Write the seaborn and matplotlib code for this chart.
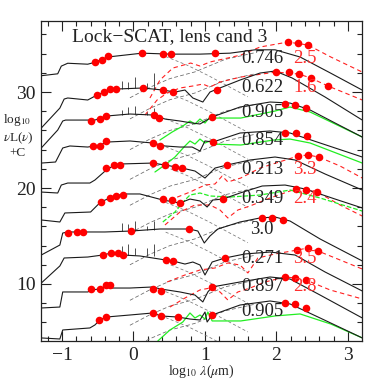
import matplotlib
matplotlib.use("Agg")
import matplotlib.pyplot as plt
from matplotlib.ticker import MultipleLocator
import seaborn as sns

# ---------------------------------------------------------------
# Data (rest-frame log10 lambda, log nuL(nu)+C)
# ---------------------------------------------------------------
z_labels = ["0.746", "0.622", "0.905", "0.854", "0.213", "0.349", "3.0", "0.271", "0.897", "0.905"]
z_label_y = [33.5, 30.45, 27.9, 24.9, 21.9, 18.9, 15.7, 12.65, 9.7, 7.1]
alt_labels = ["2.5", "1.6", "", "", "3.3", "2.4", "", "3.5", "2.8", ""]

# total model SED (black solid)
tot_x1 = [-1.29, -1.06, -1.01, -0.92, -0.64, -0.54, -0.36, -0.12, 0.12, 0.51, 0.93, 1.35, 1.70, 1.98, 2.33, 2.75, 3.20]
tot_y1 = [31.7, 31.9, 32.7, 33.0, 32.9, 33.1, 33.65, 33.85, 34.05, 33.95, 33.95, 34.05, 34.4, 34.4, 33.65, 32.0, 30.2]
tot_x2 = [-1.29, -1.03, -0.97, -0.92, -0.64, -0.51, -0.41, -0.25, 0.13, 0.41, 0.58, 0.72, 0.83, 0.97, 1.07, 1.17, 1.49, 1.77, 1.98, 2.22, 2.68, 3.20]
tot_y2 = [26.25, 28.33, 29.27, 29.38, 29.17, 29.69, 30.0, 30.31, 30.42, 30.21, 30.0, 30.21, 29.38, 28.96, 30.0, 30.31, 31.25, 31.98, 32.19, 31.46, 29.48, 27.08]
tot_x3 = [-1.29, -1.06, -0.99, -0.95, -0.54, -0.38, -0.05, 0.29, 0.44, 0.65, 0.82, 0.93, 1.10, 1.49, 1.91, 2.19, 2.47, 2.82, 3.20]
tot_y3 = [24.17, 26.04, 26.98, 27.08, 27.08, 27.5, 27.71, 27.6, 27.19, 26.98, 26.77, 26.67, 27.4, 28.44, 28.96, 28.85, 28.13, 26.77, 25.31]
tot_x4 = [-1.29, -1.09, -0.99, -0.89, -0.64, -0.47, -0.37, -0.05, 0.27, 0.44, 0.65, 0.82, 0.93, 1.0, 1.11, 1.49, 1.91, 2.19, 2.61, 3.20]
tot_y4 = [22.6, 22.71, 24.17, 24.38, 24.27, 24.48, 24.79, 24.9, 24.69, 24.38, 24.27, 24.27, 23.85, 24.9, 24.79, 25.73, 25.94, 25.73, 24.69, 23.23]
tot_x5 = [-1.29, -1.06, -1.01, -0.92, -0.61, -0.54, -0.38, -0.29, -0.20, 0.27, 0.44, 0.68, 0.86, 1.0, 1.14, 1.31, 1.63, 1.98, 2.26, 2.68, 3.20]
tot_y5 = [19.58, 19.48, 20.31, 20.52, 20.52, 20.83, 21.88, 22.29, 22.5, 22.6, 22.4, 22.08, 21.77, 21.04, 22.08, 22.4, 22.92, 23.23, 22.92, 21.46, 19.79]
tot_x6 = [-1.29, -1.03, -0.96, -0.60, -0.46, -0.33, -0.23, -0.16, 0.09, 0.41, 0.65, 0.79, 0.93, 1.03, 1.11, 1.25, 1.49, 1.80, 2.12, 2.40, 2.82, 3.20]
tot_y6 = [16.67, 16.46, 17.4, 17.5, 18.54, 18.96, 19.17, 19.38, 19.38, 18.75, 18.44, 18.85, 18.65, 18.02, 18.75, 18.85, 19.48, 20.21, 20.31, 19.9, 18.85, 17.92]
tot_x7 = [-1.29, -1.03, -0.99, -0.92, -0.40, -0.03, 0.37, 0.78, 0.90, 0.99, 1.07, 1.18, 1.49, 1.77, 1.98, 2.19, 2.61, 3.20]
tot_y7 = [13.02, 14.06, 15.31, 15.42, 15.42, 15.52, 15.73, 15.73, 15.52, 14.27, 15.0, 15.73, 16.46, 16.88, 16.98, 16.56, 14.69, 12.4]
tot_x8 = [-1.29, -1.03, -0.97, -0.64, -0.43, -0.31, -0.22, -0.15, 0.09, 0.45, 0.55, 0.72, 0.83, 0.93, 1.0, 1.10, 1.28, 1.56, 1.91, 2.26, 2.68, 3.20]
tot_y8 = [10.1, 11.88, 12.71, 12.81, 13.02, 13.23, 13.23, 13.02, 12.92, 12.5, 12.4, 12.08, 12.29, 11.98, 10.94, 12.29, 12.71, 13.13, 13.33, 13.02, 11.25, 9.27]
tot_x9 = [-1.29, -1.03, -0.99, -0.64, -0.58, -0.48, -0.38, -0.31, -0.05, 0.27, 0.38, 0.65, 0.86, 0.97, 1.04, 1.10, 1.49, 1.91, 2.19, 2.61, 3.20]
tot_y9 = [7.5, 7.6, 9.17, 9.17, 9.38, 9.48, 9.69, 9.58, 9.58, 9.69, 9.48, 9.17, 8.85, 8.13, 9.17, 9.69, 10.21, 10.73, 10.52, 8.85, 6.46]
tot_x10 = [-1.29, -1.03, -0.99, -0.61, -0.54, -0.47, -0.38, -0.05, 0.27, 0.38, 0.62, 0.79, 0.93, 1.0, 1.03, 1.10, 1.49, 1.91, 2.19, 2.61, 3.20]
tot_y10 = [4.38, 4.27, 5.21, 5.42, 5.73, 6.25, 6.56, 6.77, 6.98, 6.67, 6.56, 6.35, 6.25, 7.08, 6.04, 6.77, 7.81, 8.23, 7.92, 6.46, 4.38]

# photometry (red dots)
pt_x1 = [-0.54, -0.44, -0.36, 0.12, 0.41, 0.52, 1.14, 2.16, 2.30, 2.44]
pt_y1 = [33.1, 33.3, 33.75, 34.05, 33.95, 33.95, 34.05, 35.2, 35.1, 34.9]
pt_x2 = [-0.51, -0.41, -0.33, -0.245, 0.13, 0.41, 0.55, 1.17, 1.99, 2.17, 2.31, 2.48, 2.72]
pt_y2 = [29.7, 30.0, 30.3, 30.3, 30.4, 30.2, 30.0, 30.2, 32.1, 32.1, 31.9, 31.5, 30.6]
pt_x3 = [-0.59, -0.47, -0.38, 0.29, 0.36, 1.10, 2.12, 2.26, 2.41]
pt_y3 = [27.0, 27.2, 27.5, 27.6, 27.3, 27.4, 28.75, 28.65, 28.3]
pt_x4 = [-0.57, -0.47, -0.38, 0.27, 0.37, 1.11, 2.12, 2.27, 2.43]
pt_y4 = [24.4, 24.4, 24.85, 24.7, 24.4, 24.8, 25.7, 25.7, 25.4]
pt_x5 = [-0.38, -0.27, -0.19, 0.27, 0.44, 0.58, 0.68, 1.31, 2.30, 2.44, 2.59]
pt_y5 = [22.1, 22.4, 22.4, 22.6, 22.4, 22.2, 22.1, 22.4, 23.3, 23.4, 23.2]
pt_x6 = [-0.45, -0.33, -0.24, -0.15, 0.41, 0.54, 0.65, 1.25, 2.27, 2.41, 2.57]
pt_y6 = [18.54, 18.96, 19.17, 19.3, 18.85, 18.75, 18.4, 18.85, 19.9, 19.8, 19.6]
pt_x7 = [-0.92, -0.79, -0.71, -0.03, 0.78, 1.80, 1.94, 2.09]
pt_y7 = [15.3, 15.4, 15.4, 15.5, 15.7, 16.9, 16.9, 16.7]
pt_x8 = [-0.43, -0.31, -0.22, -0.15, 0.45, 0.55, 1.28, 2.29, 2.44, 2.58]
pt_y8 = [13.0, 13.2, 13.2, 13.0, 12.5, 12.4, 12.7, 13.5, 13.75, 13.4]
pt_x9 = [-0.59, -0.47, -0.38, -0.33, 0.27, 0.38, 1.10, 2.12, 2.26, 2.41]
pt_y9 = [9.48, 9.48, 9.9, 9.9, 9.5, 9.3, 9.7, 10.7, 10.6, 10.4]
pt_x10 = [-0.48, -0.38, 0.27, 0.38, 0.62, 1.10, 2.12, 2.26, 2.41]
pt_y10 = [6.25, 6.56, 6.98, 6.67, 6.56, 6.77, 8.0, 7.9, 7.5]

# alternative-redshift fits (red dashed)
alt_x1 = [0.23, 0.37, 0.55, 0.80, 0.93, 1.07, 1.50, 1.77, 2.16, 2.44, 2.76, 3.20]
alt_y1 = [29.38, 31.25, 32.5, 33.02, 32.71, 33.13, 33.85, 34.69, 35.21, 34.9, 33.65, 32.08]
alt_x2 = [0.16, 0.33, 0.47, 0.65, 0.83, 0.97, 1.07, 1.21, 1.50, 1.99, 2.31, 2.48, 2.72, 3.20]
alt_y2 = [27.6, 29.17, 29.9, 30.42, 30.63, 30.83, 30.52, 31.04, 31.56, 32.08, 31.88, 31.46, 30.63, 29.17]
alt_x5 = [0.51, 0.79, 1.0, 1.14, 1.24, 1.32, 1.50, 1.77, 2.30, 2.44, 2.59, 2.89, 3.20]
alt_y5 = [18.75, 19.58, 20.31, 20.42, 21.25, 20.63, 21.04, 22.08, 23.33, 23.44, 23.23, 22.29, 21.04]
alt_x6 = [0.44, 0.65, 0.86, 1.07, 1.21, 1.32, 1.46, 1.63, 1.91, 2.27, 2.41, 2.57, 2.89, 3.20]
alt_y6 = [16.15, 17.5, 18.23, 18.23, 17.71, 16.88, 17.71, 18.13, 18.96, 19.9, 19.79, 19.58, 18.23, 17.08]
alt_x8 = [0.47, 0.72, 0.93, 1.14, 1.32, 1.49, 1.60, 1.74, 1.98, 2.29, 2.44, 2.58, 2.89, 3.20]
alt_y8 = [10.21, 10.94, 11.46, 11.67, 12.19, 11.98, 11.15, 12.71, 13.13, 13.54, 13.75, 13.44, 12.5, 11.56]
alt_x9 = [0.51, 0.72, 0.93, 1.07, 1.21, 1.32, 1.46, 1.63, 1.84, 2.12, 2.26, 2.41, 2.75, 3.20]
alt_y9 = [7.6, 8.54, 9.38, 9.58, 9.17, 8.33, 9.17, 9.58, 10.21, 10.73, 10.63, 10.42, 9.38, 8.44]

# AGN dust torus (green)
agn_x3 = [0.37, 0.54, 0.69, 0.79, 0.86, 0.93, 1.0, 1.07, 1.14, 1.50, 1.98, 2.19, 2.47, 2.82, 3.20]
agn_y3 = [25.0, 25.83, 26.46, 26.98, 26.67, 27.19, 26.77, 27.4, 27.29, 27.29, 28.02, 28.44, 27.92, 26.67, 25.31]
agn_x4 = [0.30, 0.44, 0.58, 0.72, 0.79, 0.86, 0.93, 1.0, 1.07, 1.11, 1.50, 1.96, 2.19, 2.47, 3.20]
agn_y4 = [21.67, 22.4, 23.23, 24.38, 24.9, 24.58, 25.1, 24.69, 24.9, 24.58, 24.48, 25.0, 25.1, 24.69, 22.6]
agn_x6 = [0.41, 0.58, 0.72, 0.79, 0.93, 1.07, 1.35, 1.77, 2.19, 2.61, 3.20]
agn_y6 = [16.46, 17.5, 18.75, 19.27, 19.48, 19.17, 19.06, 19.27, 19.79, 18.96, 17.6]
agn_x10 = [0.34, 0.51, 0.69, 0.79, 0.86, 0.93, 1.0, 1.04, 1.10, 1.50, 1.98, 2.33, 2.76, 3.20]
agn_y10 = [4.06, 5.21, 6.04, 6.98, 6.46, 6.77, 6.35, 7.08, 6.15, 6.15, 6.67, 6.88, 5.83, 4.38]

# cool dust component (black dashed, rising from the optical)
dust_x = [-0.05, 0.23, 0.51, 0.86, 1.28, 1.70]
dust_y1 = [29.4, 30.5, 31.4, 32.1, 33.4, 34.1]
dust_y2 = [27.2, 28.3, 29.2, 29.9, 31.2, 31.9]
dust_y3 = [24.0, 25.1, 26.0, 26.7, 28.0, 28.7]
dust_y4 = [20.9, 22.0, 22.9, 23.6, 24.9, 25.6]
dust_y5 = [18.2, 19.3, 20.2, 20.9, 22.2, 22.9]
dust_y6 = [15.3, 16.4, 17.3, 18.0, 19.3, 20.0]
dust_y7 = [12.0, 13.1, 14.0, 14.7, 16.0, 16.7]
dust_y8 = [8.3, 9.4, 10.3, 11.0, 12.3, 13.0]
dust_y9 = [5.7, 6.8, 7.7, 8.4, 9.7, 10.4]
dust_y10 = [3.2, 4.3, 5.2, 5.9, 7.2, 7.9]

# old-star tail (black dashed, falling to the mid-IR)
tail_x = [0.45, 0.75, 1.05, 1.35, 1.6]
tail_y1 = [33.7, 32.8, 31.7, 30.5, 29.5]
tail_y2 = [30.0, 29.1, 28.0, 26.8, 25.8]
tail_y3 = [27.2, 26.3, 25.2, 24.0, 23.0]
tail_y4 = [24.3, 23.4, 22.3, 21.1, 20.1]
tail_y5 = [22.2, 21.3, 20.2, 19.0, 18.0]
tail_y6 = [18.5, 17.6, 16.5, 15.3, 14.3]
tail_y7 = [15.4, 14.5, 13.4, 12.2, 11.2]
tail_y8 = [12.2, 11.3, 10.2, 9.0, 8.0]
tail_y9 = [9.2, 8.3, 7.2, 6.0, 5.0]
tail_y10 = [6.5, 5.6, 4.5, 3.3, 2.3]

# emission line spikes
spike_x = [-0.16, -0.08, 0.02, 0.19, 0.29]
spike_base2, spike_top2 = [30.3, 30.35, 30.4, 30.35, 30.3], [31.2, 31.0, 31.6, 30.9, 32.0]
spike_base3, spike_top3 = [27.65, 27.7, 27.7, 27.65, 27.6], [28.1, 28.4, 28.5, 27.9, 28.3]
spike_base7, spike_top7 = [15.5, 15.5, 15.55, 15.6, 15.65], [16.35, 16.25, 16.56, 16.04, 16.56]
spike_base8, spike_top8 = [13.05, 13.0, 13.0, 12.95, 12.9], [14.0, 14.2, 13.75, 13.75, 14.2]

tot_x = [tot_x1, tot_x2, tot_x3, tot_x4, tot_x5, tot_x6, tot_x7, tot_x8, tot_x9, tot_x10]
tot_y = [tot_y1, tot_y2, tot_y3, tot_y4, tot_y5, tot_y6, tot_y7, tot_y8, tot_y9, tot_y10]
pt_x = [pt_x1, pt_x2, pt_x3, pt_x4, pt_x5, pt_x6, pt_x7, pt_x8, pt_x9, pt_x10]
pt_y = [pt_y1, pt_y2, pt_y3, pt_y4, pt_y5, pt_y6, pt_y7, pt_y8, pt_y9, pt_y10]
dust_y = [dust_y1, dust_y2, dust_y3, dust_y4, dust_y5, dust_y6, dust_y7, dust_y8, dust_y9, dust_y10]
tail_y = [tail_y1, tail_y2, tail_y3, tail_y4, tail_y5, tail_y6, tail_y7, tail_y8, tail_y9, tail_y10]
alt_curves = [(alt_x1, alt_y1), (alt_x2, alt_y2), (alt_x5, alt_y5), (alt_x6, alt_y6), (alt_x8, alt_y8), (alt_x9, alt_y9)]
agn_curves = [(agn_x3, agn_y3, "-"), (agn_x4, agn_y4, "-"), (agn_x6, agn_y6, "--"), (agn_x10, agn_y10, "-")]
spikes = [(spike_base2, spike_top2), (spike_base3, spike_top3), (spike_base7, spike_top7), (spike_base8, spike_top8)]

# ---------------------------------------------------------------
# Plot
# ---------------------------------------------------------------
sns.set_style("ticks")
plt.rcParams["font.family"] = ["Liberation Serif", "DejaVu Serif"]
plt.rcParams["mathtext.fontset"] = "stix"

fig = plt.figure(figsize=(3.82, 3.82), dpi=100)
ax = fig.add_axes([0.1073, 0.1073, 0.8403, 0.8377])

for i in range(10):
    sns.lineplot(x=dust_x, y=dust_y[i], ax=ax, color="#666666", lw=0.55,
                 linestyle=(0, (5, 3)), sort=False, estimator=None)
    sns.lineplot(x=tail_x, y=tail_y[i], ax=ax, color="#777777", lw=0.55,
                 linestyle=(0, (4, 3)), sort=False, estimator=None)

for ax_x, ax_y in alt_curves:
    sns.lineplot(x=ax_x, y=ax_y, ax=ax, color="#ff2020", lw=0.8,
                 linestyle=(0, (4, 3)), sort=False, estimator=None)

for gx, gy, ls in agn_curves:
    sns.lineplot(x=gx, y=gy, ax=ax, color="#22ee22", lw=0.9,
                 linestyle=ls, sort=False, estimator=None)

for base, top in spikes:
    ax.vlines(spike_x, base, top, color="#333333", lw=0.6)

for i in range(10):
    sns.lineplot(x=tot_x[i], y=tot_y[i], ax=ax, color="#1a1a1a", lw=0.8,
                 sort=False, estimator=None)
    sns.scatterplot(x=pt_x[i], y=pt_y[i], ax=ax, color="red", s=30,
                    linewidth=0, zorder=5)
    ax.text(1.80, z_label_y[i], z_labels[i], fontsize=13.5, ha="center",
            va="center", color="#222222", zorder=6)
    if alt_labels[i]:
        ax.text(2.40, z_label_y[i], alt_labels[i], fontsize=13.5, ha="center",
                va="center", color="#ff3030", zorder=6)

ax.text(0.51, 35.75, "Lock\u2212SCAT, lens cand 3", fontsize=14, ha="center",
        va="center", color="#222222")

ax.set_xlim(-1.294, 3.196)
ax.set_ylim(4.06, 37.4)
ax.xaxis.set_major_locator(MultipleLocator(1))
ax.xaxis.set_minor_locator(MultipleLocator(0.2))
ax.yaxis.set_major_locator(MultipleLocator(10))
ax.yaxis.set_minor_locator(MultipleLocator(2))
ax.tick_params(which="both", direction="in", top=True, right=True, width=0.8, colors="#222222")
ax.tick_params(which="major", length=7, labelsize=14, pad=4)
ax.tick_params(which="minor", length=3.5)
for sp in ax.spines.values():
    sp.set_linewidth(0.9)
    sp.set_color("#222222")

ax.set_xlabel(r"log$_{10}$ $\lambda$($\mu$m)", fontsize=10, labelpad=-1)
ax.set_ylabel("")
fig.text(0.008, 0.685, r"log$_{10}$", fontsize=9.5, ha="left", va="center")
fig.text(0.008, 0.638, r"$\nu$L($\nu$)", fontsize=9.5, ha="left", va="center")
fig.text(0.025, 0.600, "+C", fontsize=9.5, ha="left", va="center")

fig.savefig("out.png", dpi=100)
